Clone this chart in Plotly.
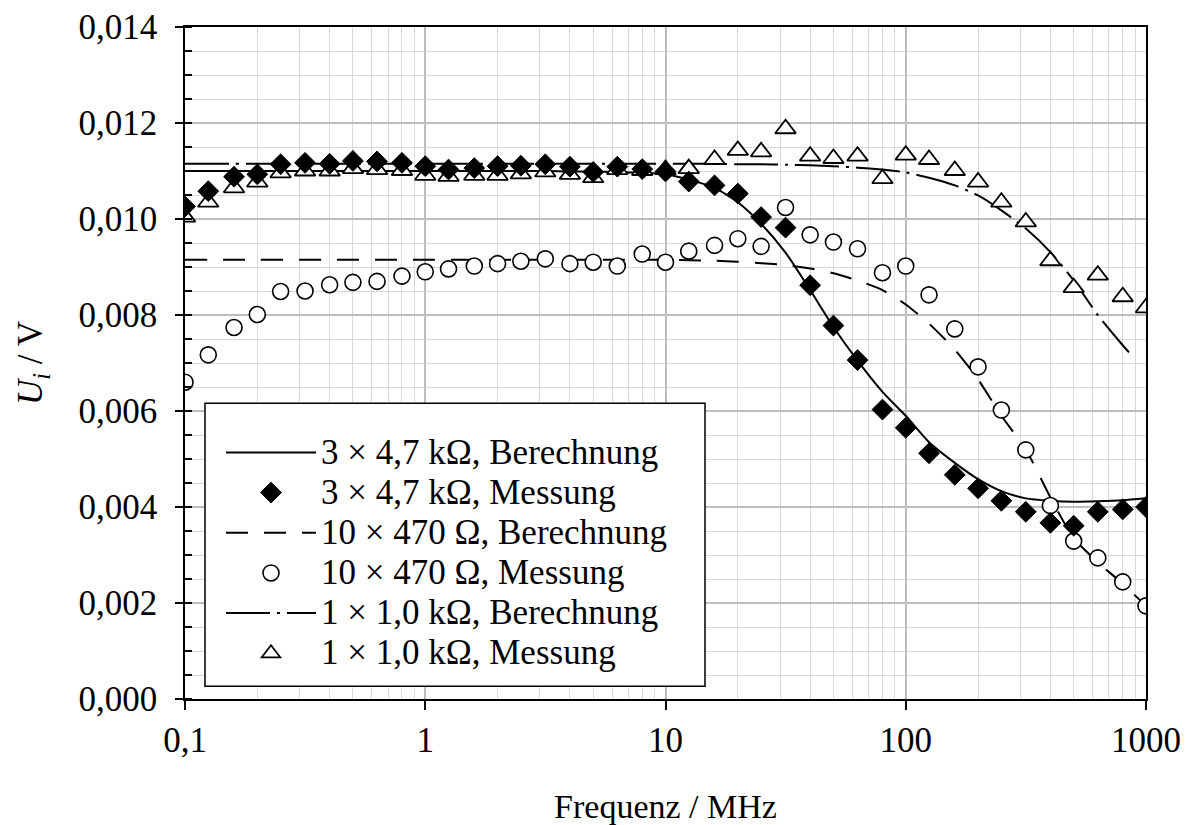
import plotly.graph_objects as go

# ---------------- data ----------------
freq = [0.1, 0.125, 0.16, 0.2, 0.25, 0.316, 0.4, 0.5, 0.63, 0.8,
        1, 1.25, 1.6, 2, 2.5, 3.16, 4, 5, 6.3, 8,
        10, 12.5, 16, 20, 25, 31.6, 40, 50, 63, 80,
        100, 125, 160, 200, 250, 316, 400, 500, 630, 800, 1000]

mess_47k = [0.01026, 0.01058, 0.01088, 0.01093, 0.01114, 0.01117, 0.01115, 0.01121, 0.0112, 0.01117,
            0.0111, 0.01103, 0.01106, 0.0111, 0.01111, 0.01114, 0.01109, 0.01098, 0.01109, 0.01104,
            0.01099, 0.01078, 0.0107, 0.01053, 0.01004, 0.00982, 0.00862, 0.00778, 0.00706, 0.00603,
            0.00565, 0.00512, 0.00467, 0.00439, 0.00413, 0.0039, 0.00367, 0.00361, 0.0039, 0.00395, 0.004]

mess_470 = [0.0066, 0.00717, 0.00774, 0.00801, 0.00849, 0.0085, 0.00863, 0.00868, 0.0087, 0.00881,
            0.0089, 0.00896, 0.00902, 0.00907, 0.00912, 0.00917, 0.00907, 0.0091, 0.00902, 0.00927,
            0.0091, 0.00933, 0.00945, 0.00959, 0.00943, 0.01024, 0.00967, 0.00952, 0.00938, 0.00888,
            0.00902, 0.00842, 0.00771, 0.00692, 0.00602, 0.00519, 0.00403, 0.00329, 0.00294, 0.00244, 0.00194]

mess_1k = [0.01004, 0.01035, 0.01065, 0.01077, 0.01096, 0.011, 0.011, 0.01105, 0.01103, 0.01101,
           0.01091, 0.01089, 0.01091, 0.01091, 0.01094, 0.01098, 0.01093, 0.01086, 0.01103, 0.01101,
           0.01103, 0.01105, 0.01124, 0.01143, 0.0114, 0.01188, 0.01131, 0.01126, 0.01131, 0.01084,
           0.01133, 0.01124, 0.01101, 0.01077, 0.01035, 0.00994, 0.00913, 0.00857, 0.00883, 0.00838, 0.00815]

ber_47k = [0.0110, 0.0110, 0.0110, 0.0110, 0.0110, 0.0110, 0.0110, 0.0110, 0.0110, 0.0110,
           0.0110, 0.0110, 0.0110, 0.0110, 0.0110, 0.0110, 0.01099, 0.01099, 0.01098, 0.01096,
           0.01093, 0.01082, 0.01065, 0.01035, 0.0099, 0.0093, 0.00852, 0.00775, 0.00705, 0.0064,
           0.0059, 0.00535, 0.00492, 0.00458, 0.00433, 0.00418, 0.00413, 0.00411, 0.00412, 0.00414, 0.00418]

ber_470 = [0.00915, 0.00915, 0.00915, 0.00915, 0.00915, 0.00915, 0.00915, 0.00915, 0.00915, 0.00915,
           0.00915, 0.00915, 0.00915, 0.00915, 0.00915, 0.00915, 0.00915, 0.00915, 0.00915, 0.00915,
           0.00915, 0.00914, 0.00913, 0.00911, 0.00908, 0.00904, 0.00897, 0.00887, 0.00872, 0.00852,
           0.00822, 0.00782, 0.00728, 0.00666, 0.0059, 0.0052, 0.0042, 0.00335, 0.00285, 0.0024, 0.00194]

freq_ber_1k = freq[:-1] + [850]
ber_1k = [0.01115, 0.01115, 0.01115, 0.01115, 0.01115, 0.01115, 0.01115, 0.01115, 0.01115, 0.01115,
          0.01115, 0.01115, 0.01115, 0.01115, 0.01115, 0.01115, 0.01115, 0.01115, 0.01115, 0.01115,
          0.01115, 0.01115, 0.01115, 0.01114, 0.01114, 0.01113, 0.01112, 0.0111, 0.01107, 0.01103,
          0.01097, 0.01086, 0.0107, 0.01049, 0.01018, 0.0098, 0.00931, 0.00872, 0.008, 0.00737, 0.00722]

names = ["3 × 4,7 kΩ, Berechnung", "3 × 4,7 kΩ, Messung",
         "10 × 470 Ω, Berechnung", "10 × 470 Ω, Messung",
         "1 × 1,0 kΩ, Berechnung", "1 × 1,0 kΩ, Messung"]

x_tickvals = [0.1, 1, 10, 100, 1000]
x_ticktext = ["0,1", "1", "10", "100", "1000"]

# ---------------- figure ----------------
FONT = "Liberation Serif, Times New Roman, serif"
LEG_TXT = 35


def leg(name):
    return '<span style="font-size:%dpx">%s</span>' % (LEG_TXT, name)


fig = go.Figure()

fig.add_trace(go.Scatter(x=freq, y=ber_47k, mode="lines", name=leg(names[0]), legendrank=1,
                         line=dict(color="black", width=2, shape="spline", smoothing=0.6)))
fig.add_trace(go.Scatter(x=freq, y=ber_470, mode="lines", name=leg(names[2]), legendrank=3,
                         line=dict(color="black", width=2, dash="22px,16px", shape="spline", smoothing=0.6)))
fig.add_trace(go.Scatter(x=freq_ber_1k, y=ber_1k, mode="lines", name=leg(names[4]), legendrank=5,
                         line=dict(color="black", width=2, dash="44px,7px,3px,7px", shape="spline", smoothing=0.6)))
fig.add_trace(go.Scatter(x=freq, y=mess_1k, mode="markers", name=leg(names[5]), legendrank=6,
                         marker=dict(symbol="triangle-up", size=18, color="white",
                                     line=dict(color="black", width=1.8))))
fig.add_trace(go.Scatter(x=freq, y=mess_470, mode="markers", name=leg(names[3]), legendrank=4,
                         marker=dict(symbol="circle", size=16, color="white",
                                     line=dict(color="black", width=1.6))))
fig.add_trace(go.Scatter(x=freq, y=mess_47k, mode="markers", name=leg(names[1]), legendrank=2,
                         marker=dict(symbol="diamond", size=16, color="black",
                                     line=dict(color="black", width=1))))

# legend frame
fig.add_shape(type="rect", xref="paper", yref="paper",
              x0=(205 - 185) / 961, x1=(705 - 185) / 961,
              y0=(698.7 - 686) / 672, y1=(698.7 - 403) / 672,
              line=dict(color="black", width=1.5), fillcolor="white", layer="above")

fig.update_layout(
    width=1187, height=825,
    margin=dict(l=185, r=41, t=27, b=126, autoexpand=False),
    paper_bgcolor="white", plot_bgcolor="white",
    separators=", ",
    font=dict(family=FONT, size=34, color="black"),
    showlegend=True,
    legend=dict(x=(221 - 185) / 961, y=(698.7 - 679) / 672, xanchor="left", yanchor="bottom",
                bgcolor="rgba(0,0,0,0)", borderwidth=0, itemwidth=90,
                font=dict(family=FONT, size=28.6, color="black"), tracegroupgap=0),
    xaxis=dict(type="log", range=[-1, 3], tickvals=x_tickvals, ticktext=x_ticktext,
               automargin=False,
               ticks="outside", ticklen=9, tickcolor="black", tickwidth=1.5,
               showline=True, linecolor="black", linewidth=1.5, mirror=True,
               showgrid=True, gridcolor="#bdbdbd", gridwidth=1.5,
               minor=dict(dtick="D1", showgrid=True, gridcolor="#d9d9d9", gridwidth=1, ticks=""),
               tickfont=dict(family=FONT, size=35), ticklabelstandoff=0,
               title=dict(text="Frequenz / MHz", font=dict(family=FONT, size=34), standoff=37),
               zeroline=False),
    yaxis=dict(range=[0, 0.014], dtick=0.002, tick0=0, tickformat=".3f",
               automargin=False,
               ticks="outside", ticklen=8, tickcolor="black", tickwidth=1.5,
               showline=True, linecolor="black", linewidth=1.5, mirror=True,
               showgrid=True, gridcolor="#bdbdbd", gridwidth=1.5,
               minor=dict(dtick=0.0005, showgrid=True, gridcolor="#d9d9d9", gridwidth=1,
                          ticks="inside", ticklen=7, tickcolor="black"),
               tickfont=dict(family=FONT, size=35), ticklabelstandoff=11,
               title=dict(text="<i>U</i><sub><i>i</i></sub> / V", font=dict(family=FONT, size=35), standoff=25),
               zeroline=False),
)

fig.write_html("out.html")
